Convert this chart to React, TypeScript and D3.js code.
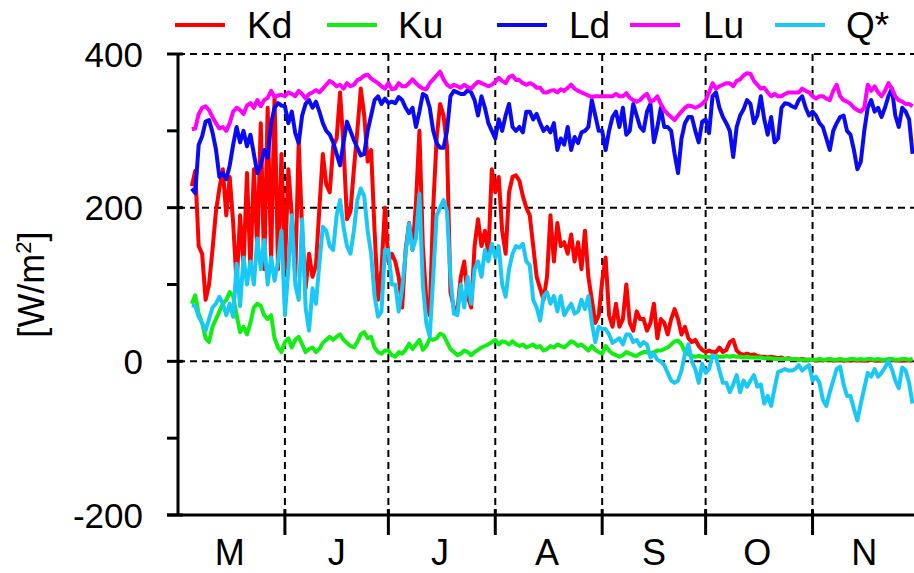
import React from "react";
import * as d3 from "d3";

// daily means, 5 May .. 30 Nov (W/m2)
const startDay = Date.UTC(2000, 4, 5);

const kd = [
  228, 248, 150, 140, 80, 100, 145, 195, 225, 250, 190, 240, 180, 100, 190, 125, 245, 120, 250, 145, 310, 120, 330, 130, 345, 120, 270,
  120, 250, 190, 110, 285, 170, 95, 140, 110, 125, 200, 270, 230, 220, 280, 290, 350, 280, 185, 195, 250, 300, 355, 320, 260, 275, 170, 80, 120, 200,
  130, 140, 130, 110, 70, 145, 180, 145, 205, 300, 150, 80, 60, 200, 290, 335, 320, 280, 90, 70, 65, 110, 130, 85, 70, 150, 185, 150, 170, 140, 250,
  220, 240, 170, 140, 220, 240, 242, 235, 215, 200, 190, 150, 110, 95, 80, 110, 190, 130, 180, 150, 155, 140, 165, 130, 155, 120, 170, 110, 80, 50, 60,
  105, 135, 60, 45, 75, 45, 55, 100, 50, 40, 65, 55, 55, 40, 50, 75, 30, 55, 50, 35, 55, 68, 55, 35, 45, 30, 25, 28, 20, 15,
  12, 14, 12, 12, 18, 12, 15, 25, 28, 14, 10, 8, 10, 8, 9, 7, 6, 6, 5, 6, 5, 4, 5, 3, 4, 3, 3, 2, 3, 2, 2,
  2, 1, 2, 1, 2, 2, 1, 1, 2, 1, 1, 1, 2, 1, 1, 1, 1, 2, 1, 1, 1, 1, 1, 2, 1, 1, 1, 1, 1, 1,
];

const ku = [
  75, 86, 62, 50, 30, 25, 45, 55, 65, 75, 80, 90, 85, 60, 38, 45, 35, 50, 70, 75, 72, 60, 55, 60, 30, 18, 12,
  25, 30, 18, 28, 32, 22, 12, 16, 18, 12, 16, 24, 28, 32, 28, 32, 35, 28, 24, 20, 18, 25, 35, 38, 30, 32, 18, 12, 10, 14,
  14, 8, 6, 12, 10, 15, 23, 16, 22, 28, 15, 20, 30, 28, 30, 36, 34, 25, 16, 12, 8, 10, 14, 12, 8, 12, 15, 18, 20, 22, 25,
  28, 22, 26, 25, 22, 26, 22, 20, 22, 18, 20, 22, 18, 20, 14, 16, 20, 18, 22, 20, 18, 22, 26, 24, 20, 22, 18, 14, 20, 15, 12,
  10, 20, 14, 10, 8, 6, 8, 12, 10, 8, 7, 10, 12, 12, 10, 12, 14, 14, 16, 18, 22, 26, 27, 22, 12, 9, 7, 6, 7, 6,
  6, 6, 5, 7, 6, 6, 7, 6, 7, 6, 6, 5, 6, 5, 5, 5, 5, 4, 4, 4, 3, 3, 3, 3, 3, 3, 3, 2, 2, 2, 2,
  2, 2, 3, 2, 2, 3, 2, 2, 3, 2, 2, 3, 3, 2, 3, 2, 3, 3, 2, 3, 2, 2, 3, 3, 2, 2, 3, 3, 2, 3,
];

const ld = [
  225, 219, 282, 293, 312, 314, 298, 276, 240, 245, 237, 255, 282, 305, 285, 300, 280, 295, 270, 245, 255, 275, 265, 310, 330, 336, 333,
  332, 310, 325, 297, 284, 320, 335, 340, 330, 338, 325, 310, 300, 295, 285, 270, 255, 285, 312, 300, 288, 278, 268, 270, 300, 320, 340, 345, 335, 342,
  336, 338, 336, 344, 340, 330, 323, 330, 305, 325, 348, 345, 330, 300, 284, 278, 278, 300, 345, 352, 350, 348, 348, 353, 350, 340, 320, 345, 330, 310, 300,
  290, 315, 300, 320, 335, 305, 300, 305, 298, 325, 325, 315, 322, 310, 300, 305, 298, 310, 275, 290, 282, 305, 275, 292, 284, 298, 300, 305, 340, 320, 300,
  300, 275, 300, 318, 325, 305, 330, 295, 300, 335, 320, 305, 300, 325, 335, 285, 305, 330, 305, 305, 300, 270, 245, 290, 310, 318, 318, 300, 285, 312,
  315, 297, 345, 350, 330, 318, 310, 300, 266, 305, 320, 328, 340, 335, 310, 320, 345, 315, 295, 318, 285, 290, 330, 336, 335, 332, 330, 340, 345, 330, 320,
  325, 320, 310, 305, 290, 275, 300, 310, 318, 320, 300, 295, 275, 250, 260, 300, 330, 340, 325, 330, 318, 330, 345, 355, 320, 305, 330, 325, 315, 270,
];

const lu = [
  302, 303, 322, 330, 332, 327, 318, 310, 303, 305, 300, 310, 325, 330, 327, 322, 333, 336, 330, 340, 332, 340, 343, 352, 344, 346, 347,
  345, 350, 348, 345, 352, 348, 342, 348, 350, 353, 350, 355, 360, 365, 362, 358, 360, 355, 362, 358, 360, 366, 368, 372, 373, 368, 365, 362, 358, 355,
  362, 354, 355, 362, 358, 358, 362, 367, 362, 358, 355, 354, 362, 367, 372, 377, 367, 360, 357, 360, 358, 356, 360, 357, 355, 360, 364, 362, 360, 358, 360,
  364, 369, 365, 362, 370, 372, 366, 366, 362, 360, 362, 360, 356, 356, 350, 350, 352, 353, 350, 354, 352, 356, 360, 355, 352, 350, 348, 346, 344, 345, 345,
  345, 345, 345, 345, 348, 345, 345, 349, 343, 340, 338, 340, 345, 348, 338, 340, 345, 335, 327, 322, 318, 314, 320, 325, 330, 333, 332, 330, 332, 335,
  340, 350, 362, 355, 358, 360, 362, 362, 358, 365, 367, 372, 375, 374, 365, 360, 355, 356, 350, 345, 348, 345, 345, 348, 350, 350, 350, 350, 355, 352, 350,
  345, 342, 345, 345, 342, 340, 352, 360, 345, 340, 338, 335, 330, 327, 325, 330, 360, 352, 358, 350, 345, 352, 362, 355, 345, 340, 338, 335, 335, 332,
];

const qstar = [
  73, 72, 58, 50, 40, 55, 70, 75, 84, 75, 60, 75, 58, 127, 72, 135, 100, 130, 100, 160, 120, 158, 100, 135, 105, 130, 170,
  60, 120, 190, 100, 80, 185, 70, 40, 95, 75, 128, 175, 170, 150, 145, 190, 210, 175, 150, 140, 170, 210, 225, 215, 170, 140, 85, 58, 65, 145,
  145, 100, 100, 65, 95, 140, 179, 145, 160, 218, 100, 50, 32, 110, 190, 200, 210, 195, 110, 62, 60, 100, 70, 110, 75, 120, 130, 110, 145, 130, 153,
  135, 150, 100, 84, 120, 140, 150, 148, 153, 130, 125, 80, 70, 53, 85, 90, 75, 85, 65, 85, 60, 68, 75, 62, 65, 80, 68, 85, 50, 25, 45,
  42, 42, 35, 24, 27, 30, 22, 35, 35, 25, 28, 20, 25, 22, 5, 10, 2, 0, -5, -15, -25, -28, -25, -12, 10, 22, 0, -10, -28, -3,
  -15, -10, 8, 5, -12, -28, -28, -40, -30, -18, -40, -25, -33, -25, -18, -33, -30, -55, -45, -58, -35, -14, -12, -10, -12, -12, -10, -5, -12, -8, -5,
  -25, -20, -28, -50, -58, -40, -25, -10, -7, -30, -45, -45, -62, -77, -55, -35, -15, -20, -10, -20, -15, -8, 0, -10, -25, -35, -8, -12, -28, -55,
];

const seriesNames = ["Kd", "Ku", "Ld", "Lu", "Q*"];
const seriesColors = ["#ff0000", "#11ee11", "#0a0af5", "#ff00ff", "#19c8f5"];
const seriesValues = [kd, ku, ld, lu, qstar];

const monthLabels = ["M", "J", "J", "A", "S", "O", "N"];
const yTicks = [-200, 0, 200, 400];
const yMinorTicks = [-100, 100, 300];
const gridValues = [0, 200, 400];

const W = 914;
const H = 573;
const left = 178;
const top = 54;
const bottom = 515;
const font = "'Liberation Sans', Arial, sans-serif";

export default function App() {
  const x = d3
    .scaleUtc()
    .domain([new Date(Date.UTC(2000, 4, 1)), new Date(Date.UTC(2000, 11, 1))])
    .range([left, 916]);
  const y = d3.scaleLinear().domain([-200, 400]).range([bottom, top]);

  const dayMs = 86400000;
  const line = d3
    .line<number>()
    .x((_, i) => x(new Date(startDay + i * dayMs)))
    .y((d) => y(d));

  const monthStarts = d3.utcMonth.range(
    new Date(Date.UTC(2000, 4, 1)),
    new Date(Date.UTC(2000, 11, 2))
  );
  const boundaries = monthStarts.slice(1);

  const legendLineX = [175, 327, 497, 630, 775];
  const legendTextX = [247, 398, 569, 703, 846];

  return (
    <svg
      width={W}
      height={H}
      style={{ position: "absolute", left: 0, top: 0, background: "#fff", overflow: "hidden" }}
      fontFamily={font}
    >
      {/* grid */}
      {gridValues.map((v) => (
        <line
          key={"h" + v}
          x1={left}
          x2={W}
          y1={y(v)}
          y2={y(v)}
          stroke="#000"
          strokeWidth={2}
          strokeDasharray="7 5"
        />
      ))}
      {boundaries.map((d, i) => (
        <line
          key={"v" + i}
          x1={x(d)}
          x2={x(d)}
          y1={top}
          y2={bottom}
          stroke="#000"
          strokeWidth={2}
          strokeDasharray="7 5"
        />
      ))}

      {/* series */}
      {seriesValues.map((vals, i) => (
        <path
          key={seriesNames[i]}
          d={line(vals) || ""}
          fill="none"
          stroke={seriesColors[i]}
          strokeWidth={4}
          strokeLinejoin="round"
        />
      ))}

      {/* axes */}
      <line x1={left} x2={left} y1={top} y2={bottom} stroke="#000" strokeWidth={3} />
      <line x1={167} x2={W} y1={bottom} y2={bottom} stroke="#000" strokeWidth={3} />
      {yTicks.map((v) => (
        <line key={"yt" + v} x1={167} x2={183} y1={y(v)} y2={y(v)} stroke="#000" strokeWidth={3} />
      ))}
      {yMinorTicks.map((v) => (
        <line key={"ym" + v} x1={167} x2={178} y1={y(v)} y2={y(v)} stroke="#000" strokeWidth={3} />
      ))}
      {boundaries.map((d, i) => (
        <line
          key={"xt" + i}
          x1={x(d)}
          x2={x(d)}
          y1={bottom - 6}
          y2={bottom + 20}
          stroke="#000"
          strokeWidth={3}
        />
      ))}

      {/* tick labels */}
      {yTicks.map((v) => (
        <text key={"yl" + v} x={143} y={y(v)} dy="0.36em" textAnchor="end" fontSize={35} fill="#000">
          {v}
        </text>
      ))}
      {monthStarts.slice(0, 7).map((d, i) => (
        <text
          key={"ml" + i}
          x={x(d3.utcDay.offset(d, 15))}
          y={565}
          textAnchor="middle"
          fontSize={36}
          fill="#000"
        >
          {monthLabels[i]}
        </text>
      ))}

      {/* y label */}
      <text
        transform={`translate(44, ${(top + bottom) / 2}) rotate(-90)`}
        textAnchor="middle"
        fontSize={36}
        fill="#000"
      >
        [W/m
        <tspan dy={-13} fontSize={22}>2</tspan>
        <tspan dy={13}>]</tspan>
      </text>

      {/* legend */}
      {seriesNames.map((n, i) => (
        <g key={"lg" + n}>
          <line
            x1={legendLineX[i]}
            x2={legendLineX[i] + 50}
            y1={25}
            y2={25}
            stroke={seriesColors[i]}
            strokeWidth={4}
          />
          <text x={legendTextX[i]} y={38} fontSize={37} fill="#000">
            {n}
          </text>
        </g>
      ))}
    </svg>
  );
}
